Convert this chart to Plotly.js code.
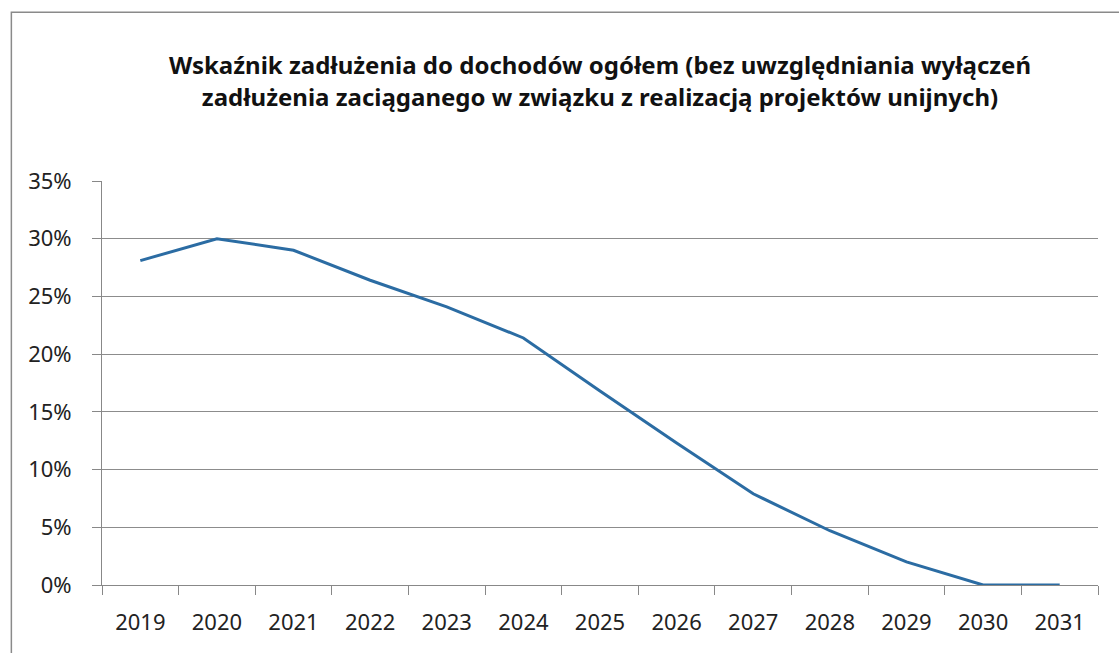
<!DOCTYPE html>
<html>
<head>
<meta charset="utf-8">
<script src="https://cdn.plot.ly/plotly-3.0.1.min.js"></script>
<style>
  html, body { margin: 0; padding: 0; background: #fff; }
  #chart { width: 1119px; height: 653px; }
</style>
</head>
<body>
<div id="chart"></div>
<script>
const years = ["2019","2020","2021","2022","2023","2024","2025","2026","2027","2028","2029","2030","2031"];
const debtRatio = [0.281, 0.300, 0.290, 0.264, 0.241, 0.214, 0.168, 0.123, 0.079, 0.047, 0.020, 0.000, 0.000];
const titleLine1 = "Wskaźnik zadłużenia do dochodów ogółem (bez uwzględniania wyłączeń";
const titleLine2 = "zadłużenia zaciąganego w związku z realizacją projektów unijnych)";

const trace = {
  x: years,
  y: debtRatio,
  type: "scatter",
  mode: "lines",
  line: { color: "#2B6CA3", width: 3 },
  hoverinfo: "x+y"
};

const layout = {
  width: 1119,
  height: 653,
  margin: { l: 102, r: 21, t: 181, b: 68, pad: 0 },
  paper_bgcolor: "#ffffff",
  plot_bgcolor: "#ffffff",
  showlegend: false,
  font: { family: "Noto Sans, sans-serif", color: "#222222", size: 22 },
  title: {
    text: titleLine1 + "<br>" + titleLine2,
    font: { family: "Noto Sans, sans-serif", size: 24, color: "#111111", weight: "bold" },
    x: 0.5, xref: "paper", xanchor: "center",
    y: 0.886, yref: "container", yanchor: "middle"
  },
  xaxis: {
    type: "category",
    range: [-0.5, 12.5],
    tickson: "boundaries",
    ticks: "outside",
    ticklen: 9,
    tickcolor: "#888888",
    showline: true,
    linecolor: "#888888",
    linewidth: 1,
    showgrid: false,
    zeroline: false,
    tickfont: { size: 22, color: "#222222" },
    ticklabelstandoff: 18,
    fixedrange: true
  },
  yaxis: {
    range: [0, 0.35],
    dtick: 0.05,
    tick0: 0,
    tickformat: ".0%",
    ticks: "outside",
    ticklen: 9,
    tickcolor: "#888888",
    showline: true,
    linecolor: "#888888",
    linewidth: 1,
    showgrid: true,
    gridcolor: "#8c8c8c",
    gridwidth: 1,
    zeroline: false,
    tickfont: { size: 22, color: "#222222" },
    ticklabelstandoff: 16,
    fixedrange: true
  },
  shapes: [{
    type: "rect", xref: "paper", yref: "paper",
    x0: -0.091, x1: 1.2, y0: -0.4, y1: 1.418,
    line: { color: "#8a8a8a", width: 1.5 },
    fillcolor: "rgba(0,0,0,0)",
    layer: "below"
  }]
};

Plotly.newPlot("chart", [trace], layout, { displayModeBar: false, staticPlot: true });
</script>
</body>
</html>
